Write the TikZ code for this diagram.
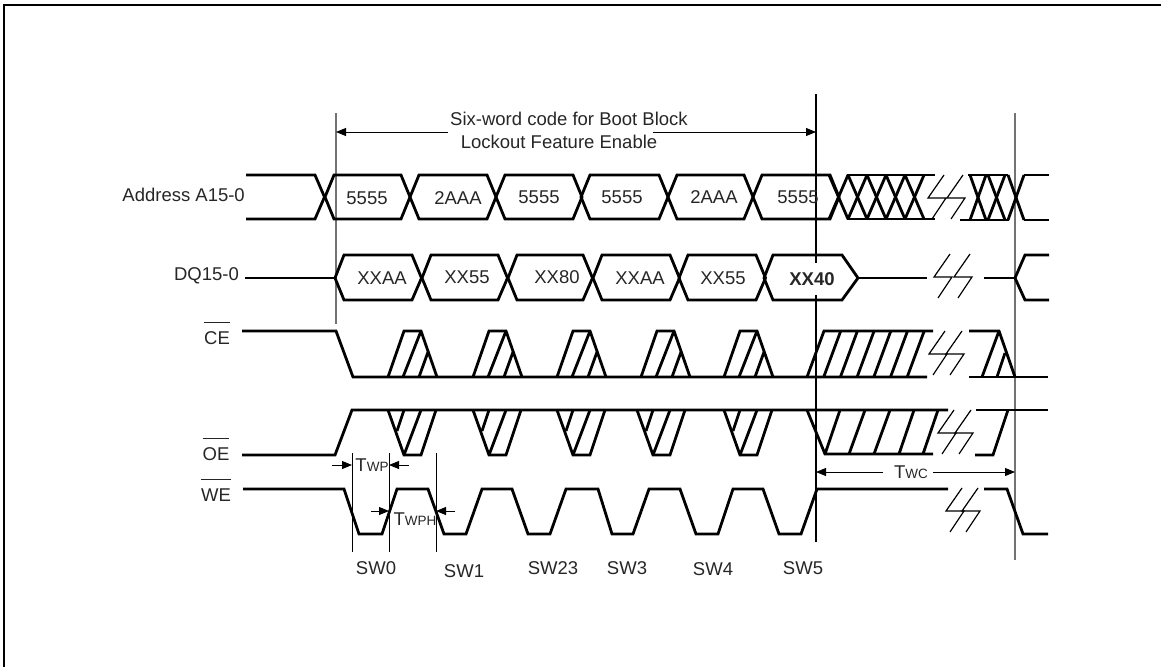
\documentclass[tikz,border=0pt]{standalone}
\usepackage{fontspec}
\setmainfont{Liberation Sans}
\usepackage{tikz}
\usetikzlibrary{arrows.meta}
\newcommand{\tlabel}[1]{T{\fontsize{13.5}{14}\selectfont #1}}
\newcommand{\barlabel}[1]{$\overline{\mbox{\rule{0pt}{20pt}#1}}$}

\begin{document}
\begin{tikzpicture}[x=1pt, y=-1pt, font=\fontsize{18.5}{22}\selectfont]
		\tikzstyle{label} = [inner sep=0pt, text=black!85]
		\tikzstyle{signal} = [line width=2.8pt, line join=miter]
		\tikzstyle{breakmark} = [line width=1.2pt]
		\tikzstyle{guide} = [line width=1pt, black]
		\tikzstyle{grayguide} = [line width=1.2pt, black!55]
		\tikzstyle{arrow} = [->,>={Triangle[length=10pt,width=8pt]}, line width=0.9pt]
		
		\useasboundingbox (0,0) rectangle (1161,667);
		
		% Page edges
		\draw [line width=2pt] (4,667) -- (4,5) -- (1161,5);
		
		% Guide lines
		\draw [grayguide] (336,113) -- (336,324);
		\draw [grayguide] (1015,113) -- (1015,560);
		\draw [line width=1.3pt] (816,94) -- (816,542);
		\foreach \x in {352,389,436}
			\draw [guide] (\x,453) -- (\x,552);
		
		% Address bus
		\draw [signal] (246,175) -- (315,175) -- (324.5,197) -- (315,219) -- (246,219);
		\foreach \a/\b in {334/401, 419/487, 505/573, 590/659, 677/744, 762/830}
			\draw [signal] (\a-9,197) -- (\a,175) -- (\b,175) -- (\b+9,197) -- (\b,219) -- (\a,219) -- cycle;
		\foreach \x in {829,848,867,886,905} {
			\draw [signal] (\x,175) -- (\x+19,219);
			\draw [signal] (\x,219) -- (\x+19,175);
		}
		\draw [signal] (847,175) -- (935,175);
		\draw [signal] (847,219) -- (935,219);
		\draw [signal] (968,175) -- (1008,175);
		\draw [signal] (960,220) -- (1009,220);
		\foreach \a/\b in {970/986, 988/1005, 1008/1024} {
			\draw [signal] (\a,175) -- (\b,220);
			\draw [signal] (\a,220) -- (\b,175);
		}
		\draw [signal] (1049,175) -- (1024,175);
		\draw [signal] (1049,220) -- (1024,220);
		
		% Data bus
		\draw [signal] (245,278) -- (335,278);
		\foreach \a/\b in {344/412, 431/498, 517/583, 602/670, 688/756}
			\draw [signal] (\a-9,278) -- (\a,255) -- (\b,255) -- (\b+9.5,278) -- (\b,300) -- (\a,300) -- cycle;
		\draw [signal] (764,278) -- (773,255) -- (842,255) -- (858,278) -- (842,300) -- (773,300) -- cycle;
		\draw [signal] (858,278) -- (927,278);
		\draw [signal] (984,278) -- (1015,278);
		\draw [signal] (1049,255) -- (1025,255) -- (1015,278) -- (1025,300) -- (1049,300);
		
		% CE
		\draw [signal] (242,331) -- (336,331) -- (353,377) -- (927,377);
		\foreach \x in {388,473,557,641,724} {
			\draw [signal] (\x,377) -- (\x+16,331) -- (\x+33,331) -- (\x+49,377);
			\draw [signal] (\x+15,377) -- (\x+33,331);
			\draw [signal] (\x+31,377) -- (\x+40,352);
		}
		\draw [signal] (807,377) -- (824,331) -- (933,331);
		\foreach \i in {1,...,6}
			\draw [signal] (807+16.7*\i,377) -- (824+16.7*\i,331);
		\draw [signal] (969,331) -- (999,331) -- (1015,377);
		\draw [signal] (969,377) -- (1048,377);
		\draw [signal] (982,377) -- (999,331);
		\draw [signal] (997,377) -- (1005,353);
		
		% OE
		\draw [signal] (242,455) -- (335,455) -- (352,410) -- (948,410);
		\foreach \x in {388,473,557,637,724} {
			\draw [signal] (\x,410) -- (\x+16,455) -- (\x+33,455) -- (\x+48,410);
			\draw [signal] (\x+33,410) -- (\x+16,455);
			\draw [signal] (\x+16,410) -- (\x+9,431);
		}
		\draw [signal] (807,410) -- (825,454) -- (933,454);
		\foreach \a/\b in {825/840, 849/865, 874/890, 899/914, 923/938}
			\draw [signal] (\a,454) -- (\b,410);
		\draw [signal] (975,455) -- (993,455) -- (1008,410);
		\draw [signal] (976,410) -- (1048,410);
		
		% WE
		\draw [signal] (243,489) -- (344,489) -- (359,534) -- (382,534) -- (397,489) -- (428,489) -- (444,534) -- (466,534) -- (482,489) -- (512,489) -- (528,534) -- (550,534) -- (566,489) -- (598,489) -- (612,534) -- (633,534) -- (649,489) -- (680,489) -- (696,534) -- (718,534) -- (733,489) -- (763,489) -- (779,534) -- (801,534) -- (817,489) -- (948,489);
		\draw [signal] (984,489) -- (1007,489) -- (1023,534) -- (1048,534);
		
		% Break marks
		\foreach \x/\y in {944/175, 963/175, 950/254, 970/254, 945/331, 962/331, 954/410, 971/410, 962/488, 978/488}
			\draw [breakmark] (\x,\y) -- (\x-16,\y+23) -- (\x+2,\y+23) -- (\x-12,\y+44);
		
		% Bus values
		\node (a0) [label] at (367,198) {5555};
		\node (a1) [label] at (458,198) {2AAA};
		\node (a2) [label] at (539,197) {5555};
		\node (a3) [label] at (622,197) {5555};
		\node (a4) [label] at (714,197) {2AAA};
		\node (a5) [label] at (798,197) {5555};
		\node (d0) [label] at (382,278) {XXAA};
		\node (d1) [label] at (467,277) {XX55};
		\node (d2) [label] at (557,277) {XX80};
		\node (d3) [label] at (640,278) {XXAA};
		\node (d4) [label] at (723,278) {XX55};
		\node (d5) [label, fill=white, inner xsep=1pt, minimum height=32pt, font=\fontsize{18.5}{22}\selectfont\bfseries] at (812,279) {XX40};
		
		% Signal names
		\node (address) [label, anchor=east] at (245,195) {Address A15-0};
		\node (dq) [label, anchor=east] at (239,276) {DQ15-0};
		\node (ce) [label, anchor=base] at (217,344) {\barlabel{CE}};
		\node (oe) [label, anchor=base] at (216,460) {\barlabel{OE}};
		\node (we) [label, anchor=base] at (216,501) {\barlabel{WE}};
		
		% Heading and arrows
		\node (head1) [label] at (569,119) {Six-word code for Boot Block};
		\node (head2) [label] at (559,142) {Lockout Feature Enable};
		\coordinate (hl) at (448,132);
		\coordinate (hlt) at (336,132);
		\coordinate (hr) at (653,132);
		\coordinate (hrt) at (816,132);
		\draw [arrow] (hl) -- (hlt);
		\draw [arrow] (hr) -- (hrt);
		
		% Timing labels
		\node (twp) [label] at (372,465) {\tlabel{WP}};
		\node (twph) [label] at (415,519) {\tlabel{WPH}};
		\node (twc) [label] at (911,472) {\tlabel{WC}};
		\coordinate (twpa) at (332,465);
		\coordinate (twpat) at (352,465);
		\coordinate (twpb) at (409,465);
		\coordinate (twpbt) at (389,465);
		\coordinate (twpha) at (371,511);
		\coordinate (twphat) at (389,511);
		\coordinate (twphb) at (455,511);
		\coordinate (twphbt) at (436,511);
		\coordinate (twca) at (883,472);
		\coordinate (twcat) at (816,472);
		\coordinate (twcb) at (933,472);
		\coordinate (twcbt) at (1015,472);
		\draw [arrow] (twpa) -- (twpat);
		\draw [arrow] (twpb) -- (twpbt);
		\draw [arrow] (twpha) -- (twphat);
		\draw [arrow] (twphb) -- (twphbt);
		\draw [arrow] (twca) -- (twcat);
		\draw [arrow] (twcb) -- (twcbt);
		
		% Strobe names
		\node (sw0) [label] at (376,568) {SW0};
		\node (sw1) [label] at (464,571) {SW1};
		\node (sw23) [label] at (553,568) {SW23};
		\node (sw3) [label] at (627,568) {SW3};
		\node (sw4) [label] at (713,569) {SW4};
		\node (sw5) [label] at (803,568) {SW5};
		
		\end{tikzpicture}
\end{document}
